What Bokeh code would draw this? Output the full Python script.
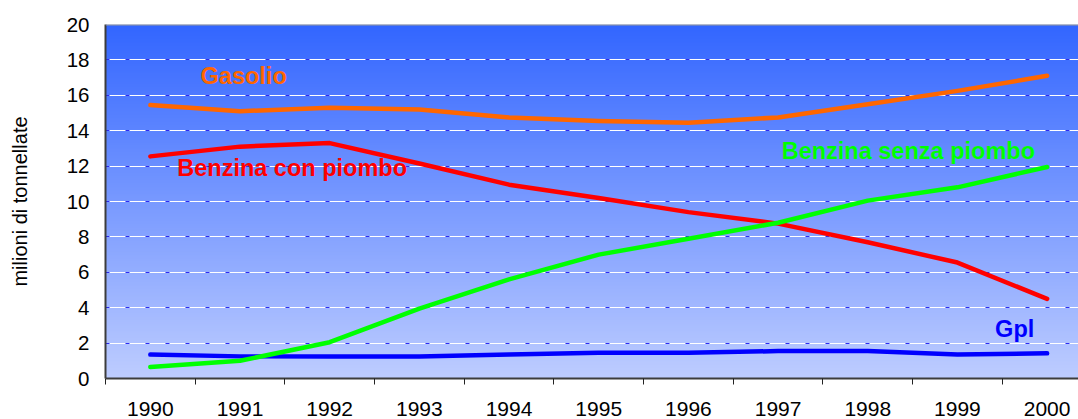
import numpy as np
from bokeh.plotting import figure
from bokeh.models import Range1d, FixedTicker, Grid, Span
from bokeh.core.properties import value
from bokeh.embed import file_html
from bokeh.resources import INLINE

# Consumi di carburanti per autotrazione, milioni di tonnellate
anni = [1990, 1991, 1992, 1993, 1994, 1995, 1996, 1997, 1998, 1999, 2000]
gasolio = [15.45, 15.1, 15.3, 15.2, 14.75, 14.55, 14.45, 14.75, 15.5, 16.25, 17.1]
benzina_con_piombo = [12.55, 13.1, 13.3, 12.15, 10.95, 10.2, 9.4, 8.75, 7.7, 6.55, 4.5]
benzina_senza_piombo = [0.65, 1.0, 2.05, 3.95, 5.6, 7.0, 7.9, 8.8, 10.05, 10.8, 11.95]
gpl = [1.35, 1.25, 1.25, 1.25, 1.35, 1.45, 1.45, 1.55, 1.55, 1.35, 1.42]

y_ticks = [0, 2, 4, 6, 8, 10, 12, 14, 16, 18, 20]
grid_ticks = [2, 4, 6, 8, 10, 12, 14, 16, 18]

FONT = "Liberation Sans"

x0, x1 = 1989.5, 2000.35
y0, y1 = 0, 20

p = figure(width=1078, height=419, output_backend="svg", toolbar_location=None,
           x_range=Range1d(x0, x1), y_range=Range1d(y0, y1),
           min_border_left=105, min_border_right=0, min_border_top=24, min_border_bottom=41)
p.outline_line_color = None
p.background_fill_color = "white"
p.border_fill_color = "white"

# vertical gradient behind the plotting area
n = 256
t = np.linspace(0.0, 1.0, n)  # 0 = bottom, 1 = top
top = np.array([51, 102, 255])
bot = np.array([190, 205, 255])
cols = (bot[None, :] * (1 - t[:, None]) + top[None, :] * t[:, None]).astype(np.uint32)
img = np.empty((n, 2), dtype=np.uint32)
view = img.view(dtype=np.uint8).reshape((n, 2, 4))
view[:, :, 0] = cols[:, 0][:, None]
view[:, :, 1] = cols[:, 1][:, None]
view[:, :, 2] = cols[:, 2][:, None]
view[:, :, 3] = 255
p.image_rgba(image=[img], x=x0, y=y0, dw=x1 - x0, dh=y1 - y0, level="image")

# gridlines: blue under white dashes
p.xgrid.visible = False
p.ygrid.ticker = FixedTicker(ticks=grid_ticks)
p.ygrid.grid_line_color = "#2b2bef"
p.ygrid.grid_line_width = 1.2
white_grid = Grid(dimension=1, ticker=FixedTicker(ticks=grid_ticks),
                  grid_line_color="white", grid_line_width=1.2,
                  grid_line_dash="16 4", grid_line_dash_offset=16)
p.add_layout(white_grid)

p.add_layout(Span(location=y1, dimension="width", line_color="#9a9a9a", line_width=2))

# series
series = [
    (gasolio, "#ff6600"),
    (gpl, "#0000ff"),
    (benzina_con_piombo, "#ff0000"),
    (benzina_senza_piombo, "#00ff00"),
]
for vals, col in series:
    p.line(anni, vals, line_color=col, line_width=4.5, line_cap="round", line_join="round")

# series labels
labels = [
    ("Gasolio", 1990.56, 17.1, "#ff6600"),
    ("Benzina con piombo", 1990.3, 11.9, "#ff0000"),
    ("Benzina senza piombo", 1997.04, 12.85, "#00ff00"),
    ("Gpl", 1999.42, 2.8, "#0000ff"),
]
for txt, lx, ly, col in labels:
    p.text(x=[lx], y=[ly], text=[txt], text_color=col, text_font=value(FONT),
           text_font_size="23.5px", text_font_style="bold",
           text_baseline="middle", text_align="left")

# x axis: year labels centred, tick marks between years
xa = p.xaxis[0]
xa.ticker = FixedTicker(ticks=anni, minor_ticks=[a - 0.5 for a in anni])
xa.major_tick_line_color = None
xa.major_tick_out = 0
xa.major_tick_in = 0
xa.minor_tick_line_color = "#222222"
xa.minor_tick_line_width = 1
xa.minor_tick_out = 6
xa.minor_tick_in = 0
xa.axis_line_color = "#3c3c3c"
xa.axis_line_width = 2
xa.major_label_text_font = FONT
xa.major_label_text_font_size = "21px"
xa.major_label_text_color = "black"
xa.major_label_standoff = 17

ya = p.yaxis[0]
ya.ticker = FixedTicker(ticks=y_ticks)
ya.major_tick_line_color = None
ya.major_tick_out = 0
ya.major_tick_in = 0
ya.minor_tick_line_color = None
ya.axis_line_color = "#3c3c3c"
ya.axis_line_width = 2
ya.major_label_text_font = FONT
ya.major_label_text_font_size = "20.5px"
ya.major_label_text_color = "black"
ya.major_label_standoff = 16
ya.axis_label = "milioni di tonnellate"
ya.axis_label_text_font = FONT
ya.axis_label_text_font_size = "20px"
ya.axis_label_text_font_style = "normal"
ya.axis_label_text_color = "black"
ya.axis_label_standoff = 33

open("out.html", "w").write(file_html(p, INLINE))
